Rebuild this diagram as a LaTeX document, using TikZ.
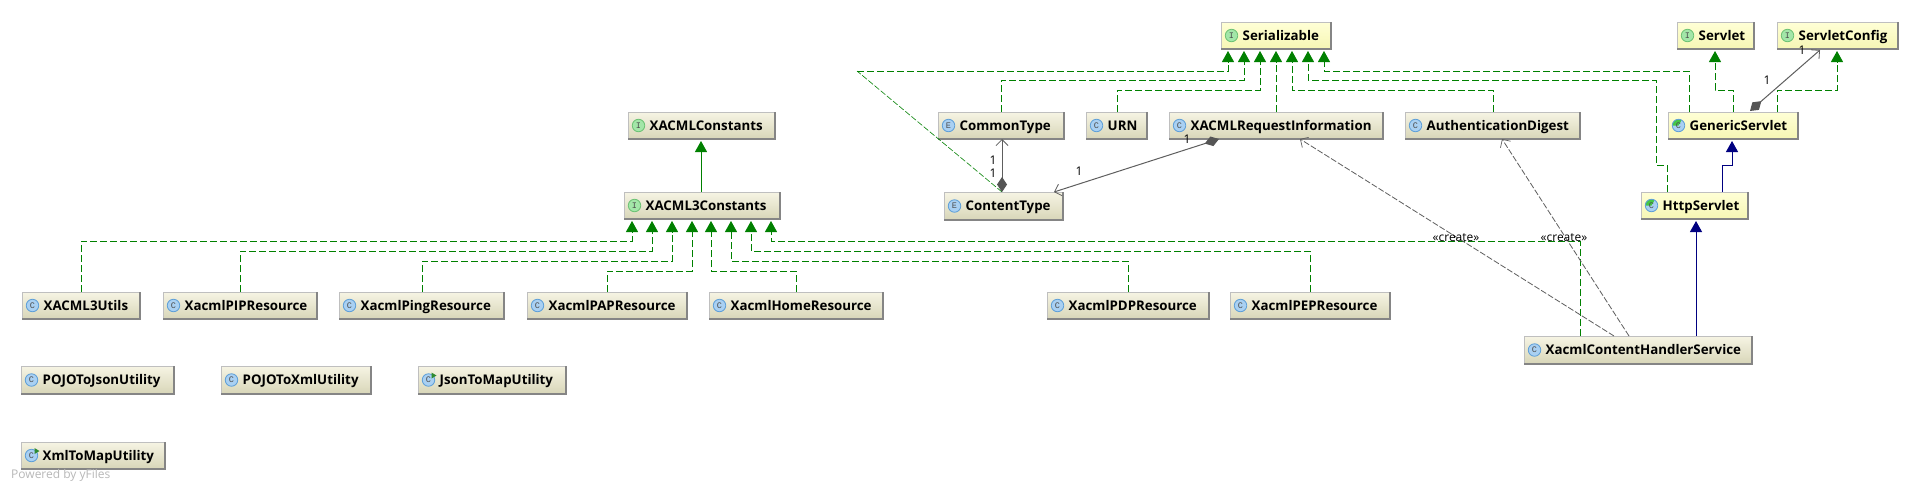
\documentclass[tikz,border=0pt]{standalone}
\usepackage{fontspec}
\setmainfont{Open Sans}
\newfontfamily\iconfont{Liberation Mono}
\usetikzlibrary{arrows.meta}
\definecolor{inhgreen}{HTML}{008000}
\definecolor{inhblue}{HTML}{000080}
\definecolor{assoc}{HTML}{5E5E5E}
\definecolor{iconblue}{HTML}{A9D0F2}
\definecolor{iconblueb}{HTML}{5E9FD8}
\definecolor{icongreen}{HTML}{A3E6A8}
\definecolor{icongreenb}{HTML}{6CC274}
\definecolor{pie}{HTML}{45C745}
\definecolor{diam}{HTML}{555555}
\tikzset{
  x=1pt,y=-1pt,
  beige/.style={draw=black!25,line width=.8pt,top color={rgb,255:red,246;green,244;blue,228},bottom color={rgb,255:red,216;green,214;blue,184},inner sep=0pt,outer sep=0pt,rectangle},
  yell/.style={draw=black!25,line width=.8pt,top color={rgb,255:red,255;green,255;blue,214},bottom color={rgb,255:red,246;green,246;blue,180},inner sep=0pt,outer sep=0pt,rectangle},
  boxedge/.style={draw=black!48,line width=1.1pt},
  lab/.style={font=\fontsize{13.3}{15}\selectfont\bfseries,text=black,inner sep=0pt,anchor=base west},
  icon/.style={circle,minimum size=12.5pt,inner sep=0pt,line width=.8pt,font=\iconfont\fontsize{8.5}{9}\selectfont,text=black!70},
  iconC/.style={icon,fill=iconblue,draw=iconblueb},
  iconI/.style={icon,fill=icongreen,draw=icongreenb},
  iconA/.style={iconC,path picture={\fill[pie] (path picture bounding box.center) -- ++(-8pt,0pt) arc[start angle=180,end angle=60,radius=8pt] -- cycle;}},
  impl/.style={draw=inhgreen,line width=.9pt,dash pattern=on 7pt off 3pt,-{Triangle[width=12pt,length=11pt,fill=inhgreen]}},
  diag/.style={draw=inhgreen,line width=.6pt,dash pattern=on 6pt off 2pt},
  ext/.style={draw=inhgreen,line width=1pt,-{Triangle[width=12pt,length=11pt,fill=inhgreen]}},
  extb/.style={draw=inhblue,line width=1pt,-{Triangle[width=12pt,length=11pt,fill=inhblue]}},
  comp/.style={draw=assoc,line width=1pt,{Diamond[width=10pt,length=15pt,color=diam,fill=diam]}-{Straight Barb[length=6pt,width=12pt,line width=.8pt]}},
  dep/.style={draw=assoc,line width=.8pt,dash pattern=on 6pt off 2pt,-{Straight Barb[length=6pt,width=12pt,line width=.7pt]}},
  mult/.style={font=\fontsize{12}{14}\selectfont,text=black,inner sep=0pt},
  pow/.style={font=\fontsize{12}{14}\selectfont,text=black!28,inner sep=0pt,anchor=base west},
}
% style, name, x1, y1, x2, y2, icon style, letter, text
\newcommand\umlbox[9]{%
  \pgfmathsetmacro\boxw{#5-#3}\pgfmathsetmacro\boxh{#6-#4}%
  \node[#1,minimum width=\boxw pt,minimum height=\boxh pt,anchor=north west] (#2) at (#3,#4) {};
  \draw[boxedge] (#2.north east) -- (#2.south east) -- (#2.south west);
  \pgfmathsetmacro\icx{#3+10.5}\pgfmathsetmacro\icy{(#4+#6)/2}\pgfmathsetmacro\tx{#3+21.5}\pgfmathsetmacro\ty{\icy+4.6}%
  \node[#7] (#2-i) at (\icx,\icy) {#8};
  \node[lab] (#2-t) at (\tx,\ty) {#9};
}
\begin{document}
\begin{tikzpicture}
\useasboundingbox[fill=white] (0,0) rectangle (1919,490);

\umlbox{yell}{ser}{1221}{22}{1331}{49}{iconI}{I}{Serializable}
\umlbox{yell}{servlet}{1677}{22}{1754}{49}{iconI}{I}{Servlet}
\umlbox{yell}{sconf}{1777}{22}{1898}{49}{iconI}{I}{ServletConfig}
\umlbox{beige}{xc}{628}{112}{775}{139}{iconI}{I}{XACMLConstants}
\umlbox{beige}{common}{938}{112}{1064}{139}{iconC}{E}{CommonType}
\umlbox{beige}{urn}{1086}{112}{1147}{139}{iconC}{C}{URN}
\umlbox{beige}{xri}{1169}{112}{1383}{139}{iconC}{C}{XACMLRequestInformation}
\umlbox{beige}{auth}{1405}{112}{1580}{139}{iconC}{C}{AuthenticationDigest}
\umlbox{yell}{gen}{1668}{112}{1798}{139}{iconA}{C}{GenericServlet}
\umlbox{beige}{x3}{624}{192}{780}{219}{iconI}{I}{XACML3Constants}
\umlbox{beige}{ctype}{944}{192}{1063}{220}{iconC}{E}{ContentType}
\umlbox{yell}{http}{1641}{192}{1748}{219}{iconA}{C}{HttpServlet}
\umlbox{beige}{utils}{22}{292}{140}{319}{iconC}{C}{XACML3Utils}
\umlbox{beige}{pip}{163}{292}{317}{319}{iconC}{C}{XacmlPIPResource}
\umlbox{beige}{ping}{339}{292}{504}{319}{iconC}{C}{XacmlPingResource}
\umlbox{beige}{pap}{527}{292}{687}{319}{iconC}{C}{XacmlPAPResource}
\umlbox{beige}{home}{709}{292}{883}{319}{iconC}{C}{XacmlHomeResource}
\umlbox{beige}{pdp}{1047}{292}{1209}{319}{iconC}{C}{XacmlPDPResource}
\umlbox{beige}{pep}{1230}{292}{1390}{319}{iconC}{C}{XacmlPEPResource}
\umlbox{beige}{chs}{1524}{336}{1752}{364}{iconC}{C}{XacmlContentHandlerService}
\umlbox{beige}{pjson}{21}{366}{174}{394}{iconC}{C}{POJOToJsonUtility}
\umlbox{beige}{pxml}{221}{366}{371}{394}{iconC}{C}{POJOToXmlUtility}
\umlbox{beige}{jmap}{418}{366}{566}{394}{iconC}{C}{JsonToMapUtility}
\umlbox{beige}{xmap}{21}{442}{165}{469}{iconC}{C}{XmlToMapUtility}
\fill[pie!70!black] ([shift={(3pt,7.5pt)}]jmap-i.center) -- ++(0pt,-6pt) -- ++(5pt,3pt) -- cycle;
\fill[pie!70!black] ([shift={(3pt,7.5pt)}]xmap-i.center) -- ++(0pt,-6pt) -- ++(5pt,3pt) -- cycle;

% XACML3Constants implementors
\draw[impl] (81,0 |- utils.north) -- (81,241) -- (632,241) -- ([yshift=-2pt]632,0 |- x3.south);
\draw[impl] (240,0 |- pip.north) -- (240,251) -- (652,251) -- ([yshift=-2pt]652,0 |- x3.south);
\draw[impl] (422,0 |- ping.north) -- (422,261) -- (672,261) -- ([yshift=-2pt]672,0 |- x3.south);
\draw[impl] (607,0 |- pap.north) -- (607,271) -- (692,271) -- ([yshift=-2pt]692,0 |- x3.south);
\draw[impl] (796,0 |- home.north) -- (796,271) -- (711,271) -- ([yshift=-2pt]711,0 |- x3.south);
\draw[impl] (1128,0 |- pdp.north) -- (1128,261) -- (731,261) -- ([yshift=-2pt]731,0 |- x3.south);
\draw[impl] (1310,0 |- pep.north) -- (1310,251) -- (751,251) -- ([yshift=-2pt]751,0 |- x3.south);
\draw[impl] (1580,0 |- chs.north) -- (1580,241) -- (771,241) -- ([yshift=-2pt]771,0 |- x3.south);
\draw[ext] (701,0 |- x3.north) -- ([yshift=-2pt]701,0 |- xc.south);

% Serializable implementors
\coordinate (bend) at (857,71);
\draw[diag] (1002,0 |- ctype.north) -- (bend);
\draw[impl] (bend) -- (1228,71) -- ([yshift=-2pt]1228,0 |- ser.south);
\draw[impl] (1001,0 |- common.north) -- (1001,80) -- (1244,80) -- ([yshift=-2pt]1244,0 |- ser.south);
\draw[impl] (1117,0 |- urn.north) -- (1117,90) -- (1260,90) -- ([yshift=-2pt]1260,0 |- ser.south);
\draw[impl] (1276,0 |- xri.north) -- ([yshift=-2pt]1276,0 |- ser.south);
\draw[impl] (1493,0 |- auth.north) -- (1493,90) -- (1292,90) -- ([yshift=-2pt]1292,0 |- ser.south);
\draw[impl] (1667,0 |- http.north) -- (1667,165) -- (1656,165) -- (1656,80) -- (1308,80) -- ([yshift=-2pt]1308,0 |- ser.south);
\draw[impl] (1689,0 |- gen.north) -- (1689,71) -- (1324,71) -- ([yshift=-2pt]1324,0 |- ser.south);

% Servlet
\draw[impl] (1733,0 |- gen.north) -- (1733,90) -- (1715,90) -- ([yshift=-2pt]1715,0 |- servlet.south);
\draw[impl] (1777,0 |- gen.north) -- (1777,90) -- (1837,90) -- ([yshift=-2pt]1837,0 |- sconf.south);
\draw[extb] (1722,0 |- http.north) -- (1722,165) -- (1732,165) -- ([yshift=-2pt]1732,0 |- gen.south);
\draw[extb] (1696,0 |- chs.north) -- ([yshift=-2pt]1696,0 |- http.south);

% Associations
\draw[comp] ([yshift=1pt]1750,0 |- gen.north) -- ([yshift=-1pt]1820,0 |- sconf.south);
\draw[comp] (1002,0 |- ctype.north) -- (1002,0 |- common.south);
\draw[comp] (1219,0 |- xri.south) -- (1054,0 |- ctype.north);
\draw[dep] (1614,0 |- chs.north) -- (1300,0 |- xri.south);
\draw[dep] (1629,0 |- chs.north) -- (1502,0 |- auth.south);

% Labels
\node[mult] (m1) at (1767,80) {1};
\node[mult] (m2) at (1802,50) {1};
\node[mult] (m3) at (993,160) {1};
\node[mult] (m4) at (993,173) {1};
\node[mult] (m5) at (1187,139) {1};
\node[mult] (m6) at (1079,171) {1};
\node[mult] (c1) at (1456,238) {«create»};
\node[mult] (c2) at (1564,238) {«create»};
\node[pow] (powered) at (11,478) {Powered by yFiles};
\end{tikzpicture}
\end{document}
